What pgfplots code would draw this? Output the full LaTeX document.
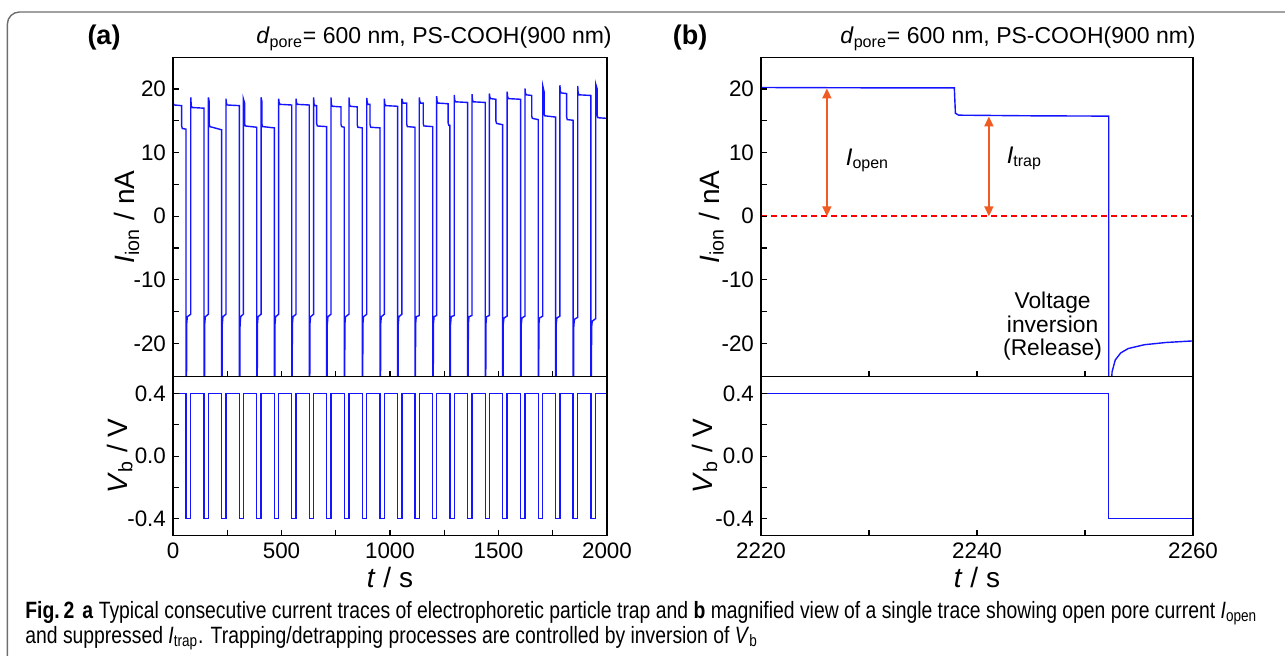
\documentclass[border=0pt]{standalone}
\usepackage{fontspec}
\setmainfont{Liberation Sans}
\newfontfamily\capfont{Liberation Sans}[FakeStretch=0.82]
\usepackage{pgfplots}
\pgfplotsset{compat=1.18}
\usetikzlibrary{arrows.meta}

\definecolor{trace}{RGB}{20,20,255}
\definecolor{arr}{RGB}{240,90,35}
\definecolor{boxgray}{RGB}{110,110,110}

\pgfplotsset{
  panel/.style={
    scale only axis, anchor=south west, axis on top,
    tick align=inside, xtick pos=bottom, ytick pos=left,
    axis line style={line width=0.75pt},
    major tick length=3pt, minor tick length=3pt,
    every tick/.style={black, line width=0.6pt},
    tick label style={font=\fontsize{11.2}{13}\selectfont},
    label style={font=\fontsize{14}{16}\selectfont},
  },
  blue line/.style={trace, line width=0.7pt, mark=none},
}

\begin{document}
\begin{tikzpicture}
\useasboundingbox (0,0) rectangle (642.5pt,-327.5pt);
\draw[boxgray, line width=0.7pt, rounded corners=6pt] (3.7pt,-6pt) rectangle (660pt,-340pt);

% ---------- panel (a), current ----------
\begin{axis}[panel, at={(86.5pt,-188.25pt)}, width=217pt, height=159.6pt,
  xmin=0, xmax=2000, ymin=-25.2, ymax=25,
  xtick={0,500,1000,1500,2000}, minor xtick={250,750,1250,1750}, xticklabels={},
  ytick={-20,-10,0,10,20}, yticklabels={-20,-10,0,10,20}, minor ytick={-15,-5,5,15},
  ylabel={\textit{I}\textsubscript{ion} / nA},
  ylabel style={at={(axis description cs:-0.106,0.5)}, anchor=center}]
\addplot[blue line] coordinates {
(0,17.8)(6,17.5)(40,17.4)(40,14.2)(43,13.8)(60,13.7)(60,-30)(62,-30)(63,-17)(66,-15.8)(82,-15.4)
(82,18.7)(84,17.4)(88,17.1)(143,17.0)(143,-30)(145,-30)(146,-17)(149,-15.8)(163,-15.4)
(163,18.7)(167,18.0)(167,14.5)(170,14.1)(224,13.6)(224,-30)(226,-30)(227,-17)(230,-15.8)(244,-15.4)
(244,18.5)(246,17.8)(250,17.5)(306,17.4)(306,-30)(308,-30)(309,-17)(312,-15.8)(324,-15.4)
(324,18.5)(330,17.8)(330,14.6)(333,14.2)(386,14.0)(386,-30)(388,-30)(389,-17)(392,-15.8)(406,-15.4)
(406,18.7)(410,18.0)(410,14.5)(413,14.1)(467,13.9)(467,-30)(469,-30)(470,-17)(473,-15.8)(487,-15.4)
(487,18.5)(489,17.9)(493,17.6)(547,17.5)(547,-30)(549,-30)(550,-17)(553,-15.8)(567,-15.4)
(567,18.5)(569,17.9)(573,17.6)(628,17.5)(628,-30)(630,-30)(631,-17)(634,-15.8)(648,-15.4)
(648,18.7)(650,17.7)(654,17.4)(662,17.4)(662,14.6)(665,14.2)(708,14.1)(708,-30)(710,-30)(711,-17)(714,-15.8)(728,-15.4)
(728,18.7)(730,17.6)(734,17.3)(774,17.2)(774,14.5)(777,14.1)(789,14.0)(789,-30)(791,-30)(792,-17)(795,-15.8)(811,-15.4)
(811,18.7)(813,17.6)(817,17.3)(849,17.2)(849,14.4)(852,14.0)(872,13.9)(872,-30)(874,-30)(875,-17)(878,-15.8)(893,-15.4)
(893,18.6)(895,17.9)(899,17.6)(908,17.6)(908,14.4)(911,14.0)(954,13.9)(954,-30)(956,-30)(957,-17)(960,-15.8)(974,-15.4)
(974,18.5)(976,17.7)(980,17.4)(1035,17.3)(1035,-30)(1037,-30)(1038,-17)(1041,-15.8)(1055,-15.4)
(1055,18.5)(1057,18.1)(1061,17.8)(1077,17.8)(1077,14.5)(1080,14.1)(1115,14.0)(1115,-30)(1117,-30)(1118,-17)(1121,-15.8)(1135,-15.6)
(1135,18.7)(1137,18.1)(1141,17.8)(1153,17.8)(1153,14.6)(1156,14.2)(1197,14.1)(1197,-30)(1199,-30)(1200,-17)(1203,-15.8)(1215,-15.6)
(1215,18.9)(1217,18.1)(1221,17.8)(1268,17.7)(1268,14.7)(1271,14.3)(1276,14.3)(1276,-30)(1278,-30)(1279,-17)(1282,-15.8)(1296,-15.6)
(1296,19.1)(1298,18.3)(1302,18.0)(1358,17.9)(1358,-30)(1360,-30)(1361,-17)(1364,-15.8)(1378,-15.6)
(1378,19.2)(1380,18.3)(1384,18.0)(1439,17.9)(1439,-30)(1441,-30)(1442,-17)(1445,-15.8)(1458,-15.6)
(1458,19.3)(1460,18.8)(1464,18.5)(1488,18.4)(1488,15.0)(1491,14.6)(1519,14.4)(1519,-30)(1521,-30)(1522,-17)(1525,-16)(1540,-15.7)
(1540,19.6)(1542,18.8)(1546,18.5)(1602,18.4)(1602,-30)(1604,-30)(1605,-17)(1608,-16)(1622,-15.7)
(1622,20.1)(1624,19.4)(1628,19.1)(1653,19.0)(1653,15.8)(1656,15.4)(1683,15.2)(1683,-30)(1685,-30)(1686,-17)(1689,-16)(1704,-15.7)
(1704,20.5)(1710,19.6)(1710,16.2)(1713,15.8)(1763,15.6)(1763,-30)(1765,-30)(1766,-17)(1769,-16)(1783,-15.7)
(1783,20.6)(1785,19.7)(1789,19.4)(1814,19.3)(1814,15.6)(1817,15.2)(1844,15.1)(1844,-30)(1846,-30)(1847,-17.2)(1850,-16.2)(1865,-15.9)
(1865,20.5)(1867,19.4)(1871,19.1)(1926,19.0)(1926,-30)(1928,-30)(1929,-17.5)(1932,-16.5)(1948,-16.1)
(1948,20.8)(1955,20.0)(1955,15.9)(1958,15.5)(2000,15.4)
};
\end{axis}

% ---------- panel (a), voltage ----------
\begin{axis}[panel, at={(86.5pt,-267.85pt)}, width=217pt, height=79.6pt,
  xmin=0, xmax=2000, ymin=-0.51, ymax=0.51,
  xtick={0,500,1000,1500,2000}, minor xtick={250,750,1250,1750},
  xticklabels={0,500,1000,1500,2000},
  ytick={-0.4,0,0.4}, yticklabels={-0.4,0.0,0.4}, minor ytick={-0.2,0.2},
  ylabel={\textit{V}\textsubscript{b} / V},
  ylabel style={at={(axis description cs:-0.122,0.5)}, anchor=center},
  xlabel={\textit{t} / s},
  xlabel style={at={(axis description cs:0.5,-0.264)}, anchor=center}]
\addplot[blue line, const plot] coordinates {
(0,0.4)(60,-0.4)(82,0.4)(143,-0.4)(163,0.4)(224,-0.4)(244,0.4)(306,-0.4)(324,0.4)(386,-0.4)
(406,0.4)(467,-0.4)(487,0.4)(547,-0.4)(567,0.4)(628,-0.4)(648,0.4)(708,-0.4)(728,0.4)(789,-0.4)
(811,0.4)(872,-0.4)(893,0.4)(954,-0.4)(974,0.4)(1035,-0.4)(1055,0.4)(1115,-0.4)(1135,0.4)(1197,-0.4)
(1215,0.4)(1276,-0.4)(1296,0.4)(1358,-0.4)(1378,0.4)(1439,-0.4)(1458,0.4)(1519,-0.4)(1540,0.4)(1602,-0.4)
(1622,0.4)(1683,-0.4)(1704,0.4)(1763,-0.4)(1783,0.4)(1844,-0.4)(1865,0.4)(1926,-0.4)(1948,0.4)(2000,0.4)
};
\end{axis}

% ---------- panel (b), current ----------
\begin{axis}[panel, at={(380.5pt,-188.25pt)}, width=216pt, height=159.6pt,
  xmin=2220, xmax=2260, ymin=-25.2, ymax=25,
  xtick={2220,2240,2260}, minor xtick={2230,2250}, xticklabels={},
  ytick={-20,-10,0,10,20}, yticklabels={-20,-10,0,10,20}, minor ytick={-15,-5,5,15},
  ylabel={\textit{I}\textsubscript{ion} / nA},
  ylabel style={at={(axis description cs:-0.115,0.5)}, anchor=center}]
\addplot[red, line width=0.8pt, dash pattern=on 3pt off 2pt] coordinates {(2220,0)(2260,0)};
\addplot[blue line] coordinates {
(2220,20.25)(2230,20.2)(2237.9,20.2)(2238.0,16.2)(2238.3,15.9)(2245,15.8)(2252.2,15.75)
(2252.2,-30)(2252.4,-30)(2252.5,-24.5)(2252.8,-22.6)(2253.3,-21.5)(2254,-20.8)(2255.5,-20.2)
(2257.5,-19.85)(2260,-19.6)
};
\addplot[arr, line width=1pt, {Triangle[length=5pt,width=4.5pt]}-{Triangle[length=5pt,width=4.5pt]}]
  coordinates {(2226.1,0)(2226.1,20.1)};
\addplot[arr, line width=1pt, {Triangle[length=5pt,width=4.5pt]}-{Triangle[length=5pt,width=4.5pt]}]
  coordinates {(2241.1,0)(2241.1,15.7)};
\node[anchor=west, font=\fontsize{12}{14}\selectfont] at (axis cs:2227.2,8.8) {\textit{I}\textsubscript{open}};
\node[anchor=west, font=\fontsize{12}{14}\selectfont] at (axis cs:2242.1,9.1) {\textit{I}\textsubscript{trap}};
\node[align=center, font=\fontsize{11.4}{11.8}\selectfont] at (axis cs:2247,-17.3) {Voltage\\inversion\\(Release)};
\end{axis}

% ---------- panel (b), voltage ----------
\begin{axis}[panel, at={(380.5pt,-267.85pt)}, width=216pt, height=79.6pt,
  xmin=2220, xmax=2260, ymin=-0.51, ymax=0.51,
  xtick={2220,2240,2260}, minor xtick={2230,2250}, xticklabels={2220,2240,2260},
  ytick={-0.4,0,0.4}, yticklabels={-0.4,0.0,0.4}, minor ytick={-0.2,0.2},
  ylabel={\textit{V}\textsubscript{b} / V},
  ylabel style={at={(axis description cs:-0.13,0.5)}, anchor=center},
  xlabel={\textit{t} / s},
  xlabel style={at={(axis description cs:0.5,-0.264)}, anchor=center}]
\addplot[blue line, const plot] coordinates {(2220,0.4)(2252.2,-0.4)(2260,-0.4)};
\end{axis}

% ---------- titles ----------
\node[font=\bfseries\fontsize{13.5}{15}\selectfont] at (52pt,-19pt) {(a)};
\node[font=\fontsize{11.5}{13}\selectfont] at (217pt,-19.5pt) {\textit{d}\textsubscript{pore}= 600 nm, PS-COOH(900 nm)};
\node[font=\bfseries\fontsize{13.5}{15}\selectfont] at (345pt,-19pt) {(b)};
\node[font=\fontsize{11.5}{13}\selectfont] at (509pt,-19.5pt) {\textit{d}\textsubscript{pore}= 600 nm, PS-COOH(900 nm)};

% ---------- caption ----------
\node[anchor=west, inner sep=0pt, font=\capfont\fontsize{11.8}{13}\selectfont] at (12.5pt,-306.5pt)
  {\textbf{Fig.\,2}\hspace{4pt}\textbf{a} Typical consecutive current traces of electrophoretic particle trap and \textbf{b} magnified view of a single trace showing open pore current \textit{I}\textsubscript{open}};
\node[anchor=west, inner sep=0pt, font=\capfont\fontsize{11.8}{13}\selectfont] at (12.5pt,-319pt)
  {and suppressed \textit{I}\textsubscript{trap}. Trapping/detrapping processes are controlled by inversion of \textit{V}\textsubscript{b}};
\end{tikzpicture}
\end{document}
